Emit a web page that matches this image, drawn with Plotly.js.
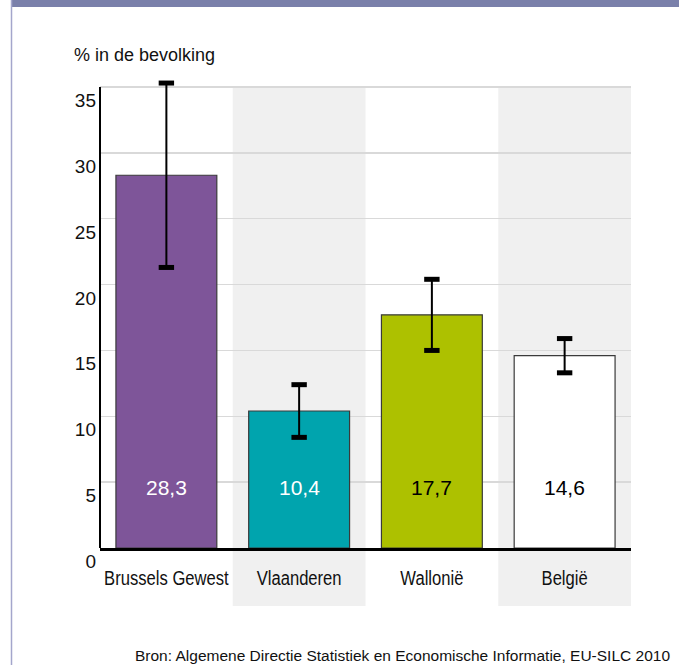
<!DOCTYPE html>
<html>
<head>
<meta charset="utf-8">
<script src="https://cdn.plot.ly/plotly-3.0.1.min.js"></script>
<style>
  html, body { margin: 0; padding: 0; background: #fff; }
  #chart { width: 679px; height: 665px; }
</style>
</head>
<body>
<div id="chart"></div>
<script>
// gegevens
const regions = ['Brussels Gewest', 'Vlaanderen', 'Wallonië', 'België'];
const values = [28.3, 10.4, 17.7, 14.6];
const errors = [7.0, 2.0, 2.7, 1.3];
const barColors = ['#7e5599', '#00a4ae', '#adc100', '#ffffff'];
const labelColors = ['#ffffff', '#ffffff', '#000000', '#000000'];
const yTicks = [0, 5, 10, 15, 20, 25, 30, 35];
const shadedRegions = ['Vlaanderen', 'België'];

const font = 'Liberation Sans, Arial, sans-serif';

// plotgebied in pixels: 100..631 horizontaal, 80..548 verticaal (35 ligt op 87)
const W = 531, H = 468;
const yMax = 35 * H / 461;
const px = x => (x - 100) / W;
const py = y => (548 - y) / H;

const bars = {
    type: 'bar',
    x: regions,
    y: values,
    width: 0.76,
    marker: { color: barColors, line: { color: '#3a3a3a', width: 1.2 } },
    error_y: { type: 'data', array: errors, visible: true, color: '#000', thickness: 2, width: 0 },
    hoverinfo: 'skip'
};

// dikke uiteinden van de foutbalken
const caps = {
    type: 'scatter',
    mode: 'markers',
    x: regions.concat(regions),
    y: values.map((v, i) => v + errors[i]).concat(values.map((v, i) => v - errors[i])),
    marker: { symbol: 'line-ew', size: 11, color: '#000', line: { color: '#000', width: 5 } },
    hoverinfo: 'skip'
};

const shapes = shadedRegions.map(r => {
    const i = regions.indexOf(r);
    return {
        type: 'rect', layer: 'below',
        xref: 'x', yref: 'paper',
        x0: i - 0.5, x1: i + 0.5,
        y0: py(606), y1: py(87),
        fillcolor: '#f0f0f0', line: { width: 0 }
    };
});

// y-as alleen tot 35
shapes.push({
    type: 'line', xref: 'paper', yref: 'y',
    x0: 0, x1: 0, y0: 0, y1: 35,
    line: { color: '#000', width: 2 }
});

// kaderelementen
shapes.push({
    type: 'rect', xref: 'paper', yref: 'paper',
    x0: px(11), x1: px(685), y0: py(0), y1: py(7),
    fillcolor: '#7a80aa', line: { width: 0 }
});
shapes.push({
    type: 'line', xref: 'paper', yref: 'paper',
    x0: px(11.5), x1: px(11.5), y0: py(670), y1: py(0),
    line: { color: '#a4a6cc', width: 1.5 }
});

const annotations = values.map((v, i) => ({
    x: regions[i], y: 4.6, xref: 'x', yref: 'y',
    text: v.toFixed(1).replace('.', ','),
    showarrow: false,
    font: { family: font, size: 21, color: labelColors[i] }
}));

annotations.push({
    xref: 'paper', yref: 'paper', x: px(72), y: py(55),
    xanchor: 'left', yanchor: 'middle',
    text: '% in de bevolking', showarrow: false,
    font: { family: font, size: 18, color: '#111' }
});
annotations.push({
    xref: 'paper', yref: 'paper', x: px(133), y: py(655),
    xanchor: 'left', yanchor: 'middle',
    text: 'Bron: Algemene Directie Statistiek en Economische Informatie, EU-SILC 2010',
    showarrow: false,
    font: { family: font, size: 15.5, color: '#111' }
});

const layout = {
    width: 679, height: 665,
    margin: { l: 100, r: 48, t: 80, b: 117 },
    paper_bgcolor: '#fff', plot_bgcolor: 'rgba(0,0,0,0)',
    showlegend: false,
    xaxis: {
        type: 'category',
        range: [-0.5, 3.5],
        showgrid: false, zeroline: false,
        showline: true, linecolor: '#000', linewidth: 2.5,
        ticks: '',
        tickangle: 0,
        ticklabelstandoff: 10,
        tickfont: { family: font, size: 20, color: '#111' },
        fixedrange: true
    },
    yaxis: {
        range: [0, yMax],
        tickvals: yTicks,
        ticktext: yTicks.map(String),
        showgrid: true, gridcolor: '#d9d9d9', gridwidth: 1.5,
        zeroline: false,
        showline: false,
        ticks: '',
        ticklabelposition: 'outside bottom',
        ticklabelstandoff: 3,
        tickfont: { family: font, size: 19, color: '#111' },
        fixedrange: true
    },
    shapes: shapes,
    annotations: annotations
};

Plotly.newPlot('chart', [bars, caps], layout, { displayModeBar: false, staticPlot: true }).then(gd => {
    // smalle letters zoals in het origineel
    gd.querySelectorAll('.xtick text').forEach(t => {
        t.setAttribute('textLength', t.getComputedTextLength() * 0.83);
        t.setAttribute('lengthAdjust', 'spacingAndGlyphs');
    });
});
</script>
</body>
</html>
